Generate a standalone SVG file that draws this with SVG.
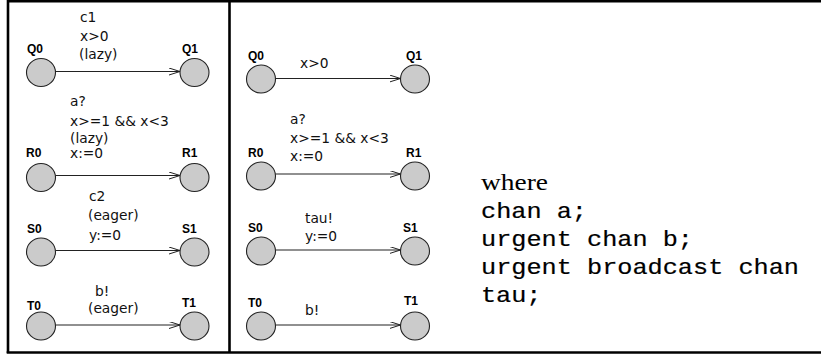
<svg xmlns="http://www.w3.org/2000/svg" width="821" height="358" viewBox="0 0 821 358">
  <defs>
    <marker id="arrow" markerUnits="userSpaceOnUse" markerWidth="12" markerHeight="8" refX="11" refY="3.5" orient="auto">
      <path d="M0,0 L11,3.5 L0,7" fill="none" stroke="#222" stroke-width="1"/>
    </marker>
    <style>
      .loc { fill: #cbcbcb; stroke: #222; stroke-width: 1.1; }
      .name { font-family: "Liberation Sans", Arial, sans-serif; font-weight: bold; font-size: 12px; fill: #000; }
      .lbl { font-family: "DejaVu Sans", "Liberation Sans", sans-serif; font-size: 13.8px; fill: #111; }
      .edge { fill: none; stroke: #222; stroke-width: 1.1; marker-end: url(#arrow); }
      .frame { stroke: #000; stroke-width: 2.6; fill: none; }
      .rm { font-family: "Liberation Serif", "DejaVu Serif", serif; font-size: 23px; fill: #000; }
      .tt { font-family: "Liberation Mono", "DejaVu Sans Mono", monospace; font-size: 22px; fill: #000; stroke: #000; stroke-width: 0.2; }
    </style>
  </defs>
  <rect width="821" height="358" fill="#fff"/>

  <!-- frame and divider -->
  <g id="frame">
    <path class="frame" d="M8,353 L8,1.3 L821,1.3"/>
    <path class="frame" d="M6.7,352.5 L821,352.5"/>
    <path class="frame" d="M229.5,0 L229.5,352"/>
  </g>

  <!-- edges -->
  <g id="connectors">
    <line class="edge" x1="55.5" y1="71.5" x2="180" y2="71.5"/>
    <line class="edge" x1="55.5" y1="175.5" x2="180" y2="175.5"/>
    <line class="edge" x1="55.5" y1="250.5" x2="180" y2="250.5"/>
    <line class="edge" x1="55.5" y1="325" x2="180" y2="325"/>
    <line class="edge" x1="275.5" y1="78.5" x2="400.5" y2="78.5"/>
    <line class="edge" x1="275.5" y1="174" x2="400.5" y2="174"/>
    <line class="edge" x1="275.5" y1="250" x2="400.5" y2="250"/>
    <line class="edge" x1="275.5" y1="325" x2="400.5" y2="325"/>
  </g>

  <!-- edge labels, left automata -->
  <g id="labels-left">
    <text class="lbl" x="80" y="22">c1</text>
    <text class="lbl" x="80" y="41">x&gt;0</text>
    <text class="lbl" x="79" y="59">(lazy)</text>
    <text class="lbl" x="70" y="106">a?</text>
    <text class="lbl" x="70" y="126">x&gt;=1 &amp;&amp; x&lt;3</text>
    <text class="lbl" x="70" y="143">(lazy)</text>
    <text class="lbl" x="70" y="158">x:=0</text>
    <text class="lbl" x="89" y="201">c2</text>
    <text class="lbl" x="88" y="220">(eager)</text>
    <text class="lbl" x="89" y="240">y:=0</text>
    <text class="lbl" x="95" y="296">b!</text>
    <text class="lbl" x="88" y="313">(eager)</text>
  </g>

  <!-- edge labels, right automata -->
  <g id="labels-right">
    <text class="lbl" x="300" y="68">x&gt;0</text>
    <text class="lbl" x="290" y="124">a?</text>
    <text class="lbl" x="290" y="143">x&gt;=1 &amp;&amp; x&lt;3</text>
    <text class="lbl" x="290" y="161">x:=0</text>
    <text class="lbl" x="305" y="223">tau!</text>
    <text class="lbl" x="305" y="241">y:=0</text>
    <text class="lbl" x="305" y="315">b!</text>
  </g>

  <!-- locations, left -->
  <g id="L-Q0"><ellipse class="loc" cx="41" cy="72.5" rx="14.5" ry="14"/><text class="name" x="27" y="53">Q0</text></g>
  <g id="L-Q1"><ellipse class="loc" cx="194.5" cy="72.5" rx="14.5" ry="14"/><text class="name" x="182" y="53">Q1</text></g>
  <g id="L-R0"><ellipse class="loc" cx="41" cy="177.5" rx="14.5" ry="14"/><text class="name" x="26" y="156.5">R0</text></g>
  <g id="L-R1"><ellipse class="loc" cx="194.5" cy="177.5" rx="14.5" ry="14"/><text class="name" x="182" y="156.5">R1</text></g>
  <g id="L-S0"><ellipse class="loc" cx="41" cy="252" rx="14.5" ry="14"/><text class="name" x="27" y="233">S0</text></g>
  <g id="L-S1"><ellipse class="loc" cx="194.5" cy="252" rx="14.5" ry="14"/><text class="name" x="182" y="233">S1</text></g>
  <g id="L-T0"><ellipse class="loc" cx="41" cy="326" rx="14.5" ry="14"/><text class="name" x="27" y="310">T0</text></g>
  <g id="L-T1"><ellipse class="loc" cx="194.5" cy="326" rx="14.5" ry="14"/><text class="name" x="182" y="306.5">T1</text></g>

  <!-- locations, right -->
  <g id="R-Q0"><ellipse class="loc" cx="261" cy="79" rx="14.5" ry="14"/><text class="name" x="248" y="60">Q0</text></g>
  <g id="R-Q1"><ellipse class="loc" cx="415" cy="79" rx="14.5" ry="14"/><text class="name" x="406" y="60">Q1</text></g>
  <g id="R-R0"><ellipse class="loc" cx="261" cy="176" rx="14.5" ry="14"/><text class="name" x="248" y="156.5">R0</text></g>
  <g id="R-R1"><ellipse class="loc" cx="415" cy="176" rx="14.5" ry="14"/><text class="name" x="406" y="156.5">R1</text></g>
  <g id="R-S0"><ellipse class="loc" cx="261" cy="251" rx="14.5" ry="14"/><text class="name" x="248" y="231.5">S0</text></g>
  <g id="R-S1"><ellipse class="loc" cx="415" cy="251" rx="14.5" ry="14"/><text class="name" x="403" y="231.5">S1</text></g>
  <g id="R-T0"><ellipse class="loc" cx="261" cy="326" rx="14.5" ry="14"/><text class="name" x="248" y="306.5">T0</text></g>
  <g id="R-T1"><ellipse class="loc" cx="415" cy="326" rx="14.5" ry="14"/><text class="name" x="404" y="305">T1</text></g>

  <!-- channel declarations -->
  <g id="declarations">
    <text class="rm" x="481" y="190" textLength="67" lengthAdjust="spacingAndGlyphs">where</text>
    <text class="tt" x="481" y="218" textLength="106" lengthAdjust="spacingAndGlyphs">chan a;</text>
    <text class="tt" x="481" y="246" textLength="212" lengthAdjust="spacingAndGlyphs">urgent chan b;</text>
    <text class="tt" x="481" y="274" textLength="318" lengthAdjust="spacingAndGlyphs">urgent broadcast chan</text>
    <text class="tt" x="481" y="302" textLength="60.5" lengthAdjust="spacingAndGlyphs">tau;</text>
  </g>
</svg>
